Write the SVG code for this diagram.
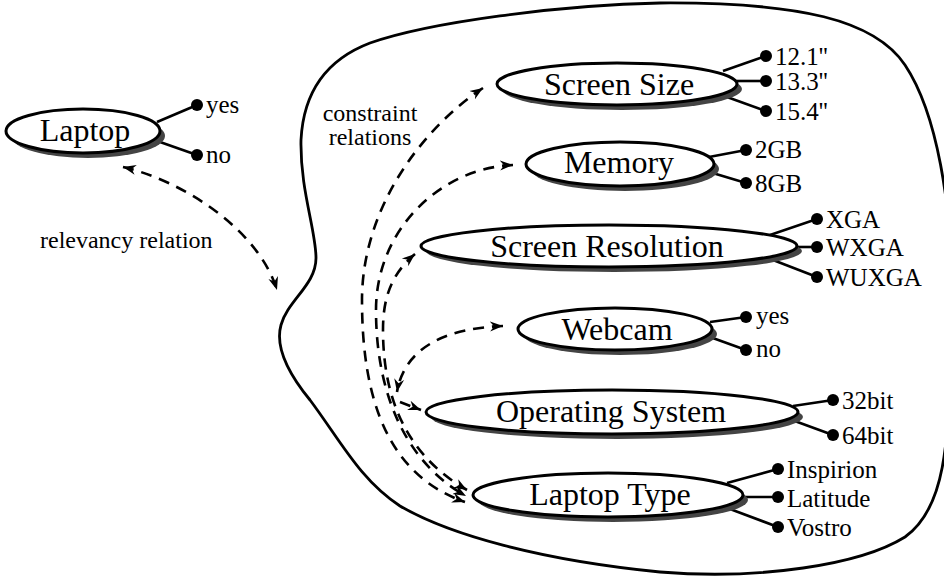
<svg xmlns="http://www.w3.org/2000/svg" width="944" height="577" viewBox="0 0 944 577">
  <style>
    .node-shadow { fill: #444; }
    .node-body { fill: #fff; stroke: #000; stroke-width: 3; }
    .node-label { font-family: "Liberation Serif", "Times New Roman", serif; font-size: 32px; fill: #000; text-anchor: middle; }
    .val-line { stroke: #000; stroke-width: 2.6; fill: none; }
    .val-dot { fill: #000; }
    .val-label { font-family: "Liberation Serif", "Times New Roman", serif; font-size: 25px; fill: #000; }
    .note { font-family: "Liberation Serif", "Times New Roman", serif; font-size: 24px; fill: #000; }
    .boundary { fill: none; stroke: #000; stroke-width: 2.8; }
    .rel { fill: none; stroke: #000; stroke-width: 2.6; stroke-dasharray: 11 8; marker-start: url(#arrow); marker-end: url(#arrow); }
    .rel-end { fill: none; stroke: #000; stroke-width: 2.6; stroke-dasharray: 11 8; marker-end: url(#arrow); }
  </style>
  <defs>
    <marker id="arrow" viewBox="0 -6 14 12" refX="13" refY="0" markerWidth="14" markerHeight="12" markerUnits="userSpaceOnUse" orient="auto-start-reverse">
      <path d="M0,-5 L13,0 L0,5 L4,0 Z" fill="#000"/>
    </marker>
  </defs>

  <rect width="944" height="577" fill="#fff"/>

  <!-- boundary enclosing the feature set -->
  <path id="boundary" class="boundary" d="M 660,3 C 560,5 430,22 370,43 C 320,62 303,100 301,140 C 300,190 316,230 316,258 C 316,285 288,300 281,325 C 274,350 292,378 310,400 C 340,440 360,480 400,506 C 450,535 540,560 660,572 C 760,580 860,565 905,537 C 950,505 948,430 952,320 C 954,200 935,110 905,65 C 875,20 800,2 660,3 Z"/>

  <!-- relation connectors -->
  <g id="connectors">
    <path class="rel" d="M 123,167 C 180,180 258,228 277,290"/>
    <path class="rel" d="M 483,88 C 420,130 362,210 362,300 C 362,400 388,475 465,502"/>
    <path class="rel" d="M 513,165 C 440,168 376,230 376,310 C 376,400 410,465 466,496"/>
    <path class="rel" d="M 415,254 C 390,275 383,300 383,330 C 383,410 415,460 467,490"/>
    <path class="rel" d="M 503,326 C 450,328 405,345 397,392"/>
    <path class="rel-end" d="M 400,402 L 421,410"/>
  </g>

  <text class="note" x="40" y="248">relevancy relation</text>
  <text class="note" x="370" y="121" text-anchor="middle">constraint</text>
  <text class="note" x="370" y="145" text-anchor="middle">relations</text>

  <!-- Laptop -->
  <g id="node-laptop">
    <line class="val-line" x1="157" y1="122" x2="197" y2="105"/>
    <line class="val-line" x1="160" y1="142" x2="197" y2="155"/>
    <ellipse class="node-shadow" cx="88" cy="136" rx="77" ry="22"/>
    <ellipse class="node-body" cx="83" cy="131" rx="77" ry="22"/>
    <text class="node-label" x="85" y="141">Laptop</text>
    <circle class="val-dot" cx="197" cy="105" r="6"/>
    <circle class="val-dot" cx="197" cy="155" r="6"/>
    <text class="val-label" x="206" y="113">yes</text>
    <text class="val-label" x="206" y="163">no</text>
  </g>

  <!-- Screen Size -->
  <g id="node-screen-size">
    <line class="val-line" x1="723" y1="71" x2="766" y2="56"/>
    <line class="val-line" x1="736" y1="81" x2="766" y2="81"/>
    <line class="val-line" x1="727" y1="97" x2="766" y2="111"/>
    <ellipse class="node-shadow" cx="622" cy="89" rx="120" ry="21"/>
    <ellipse class="node-body" cx="617" cy="84" rx="120" ry="21"/>
    <text class="node-label" x="619" y="95">Screen Size</text>
    <circle class="val-dot" cx="766" cy="56" r="6"/>
    <circle class="val-dot" cx="766" cy="81" r="6"/>
    <circle class="val-dot" cx="766" cy="111" r="6"/>
    <text class="val-label" x="775" y="65">12.1''</text>
    <text class="val-label" x="775" y="90">13.3''</text>
    <text class="val-label" x="775" y="120">15.4''</text>
  </g>

  <!-- Memory -->
  <g id="node-memory">
    <line class="val-line" x1="709" y1="157" x2="746" y2="150"/>
    <line class="val-line" x1="706" y1="171" x2="746" y2="183"/>
    <ellipse class="node-shadow" cx="625" cy="169" rx="94" ry="22"/>
    <ellipse class="node-body" cx="620" cy="164" rx="94" ry="22"/>
    <text class="node-label" x="619" y="173">Memory</text>
    <circle class="val-dot" cx="746" cy="150" r="6"/>
    <circle class="val-dot" cx="746" cy="183" r="6"/>
    <text class="val-label" x="755" y="158">2GB</text>
    <text class="val-label" x="755" y="192">8GB</text>
  </g>

  <!-- Screen Resolution -->
  <g id="node-screen-resolution">
    <line class="val-line" x1="770" y1="235" x2="817" y2="219"/>
    <line class="val-line" x1="796" y1="247" x2="817" y2="247"/>
    <line class="val-line" x1="773" y1="260" x2="817" y2="277"/>
    <ellipse class="node-shadow" cx="614" cy="251" rx="188" ry="21"/>
    <ellipse class="node-body" cx="609" cy="246" rx="188" ry="21"/>
    <text class="node-label" x="607" y="257">Screen Resolution</text>
    <circle class="val-dot" cx="817" cy="219" r="6"/>
    <circle class="val-dot" cx="817" cy="247" r="6"/>
    <circle class="val-dot" cx="817" cy="277" r="6"/>
    <text class="val-label" x="826" y="228">XGA</text>
    <text class="val-label" x="826" y="256">WXGA</text>
    <text class="val-label" x="826" y="286">WUXGA</text>
  </g>

  <!-- Webcam -->
  <g id="node-webcam">
    <line class="val-line" x1="710" y1="322" x2="746" y2="317"/>
    <line class="val-line" x1="710" y1="337" x2="746" y2="350"/>
    <ellipse class="node-shadow" cx="620" cy="334" rx="97" ry="21"/>
    <ellipse class="node-body" cx="615" cy="329" rx="97" ry="21"/>
    <text class="node-label" x="617" y="340">Webcam</text>
    <circle class="val-dot" cx="746" cy="317" r="6"/>
    <circle class="val-dot" cx="746" cy="350" r="6"/>
    <text class="val-label" x="756" y="324">yes</text>
    <text class="val-label" x="756" y="357">no</text>
  </g>

  <!-- Operating System -->
  <g id="node-operating-system">
    <line class="val-line" x1="793" y1="406" x2="833" y2="400"/>
    <line class="val-line" x1="792" y1="420" x2="833" y2="435"/>
    <ellipse class="node-shadow" cx="617" cy="417" rx="186" ry="22"/>
    <ellipse class="node-body" cx="612" cy="412" rx="186" ry="22"/>
    <text class="node-label" x="611" y="422">Operating System</text>
    <circle class="val-dot" cx="833" cy="400" r="6"/>
    <circle class="val-dot" cx="833" cy="435" r="6"/>
    <text class="val-label" x="842" y="409">32bit</text>
    <text class="val-label" x="842" y="444">64bit</text>
  </g>

  <!-- Laptop Type -->
  <g id="node-laptop-type">
    <line class="val-line" x1="727" y1="483" x2="778" y2="469"/>
    <line class="val-line" x1="741" y1="497" x2="778" y2="497"/>
    <line class="val-line" x1="730" y1="509" x2="778" y2="527"/>
    <ellipse class="node-shadow" cx="613" cy="500" rx="135" ry="22"/>
    <ellipse class="node-body" cx="608" cy="495" rx="135" ry="22"/>
    <text class="node-label" x="610" y="505">Laptop Type</text>
    <circle class="val-dot" cx="778" cy="469" r="6"/>
    <circle class="val-dot" cx="778" cy="497" r="6"/>
    <circle class="val-dot" cx="778" cy="527" r="6"/>
    <text class="val-label" x="787" y="478">Inspirion</text>
    <text class="val-label" x="787" y="507">Latitude</text>
    <text class="val-label" x="787" y="536">Vostro</text>
  </g>
</svg>
